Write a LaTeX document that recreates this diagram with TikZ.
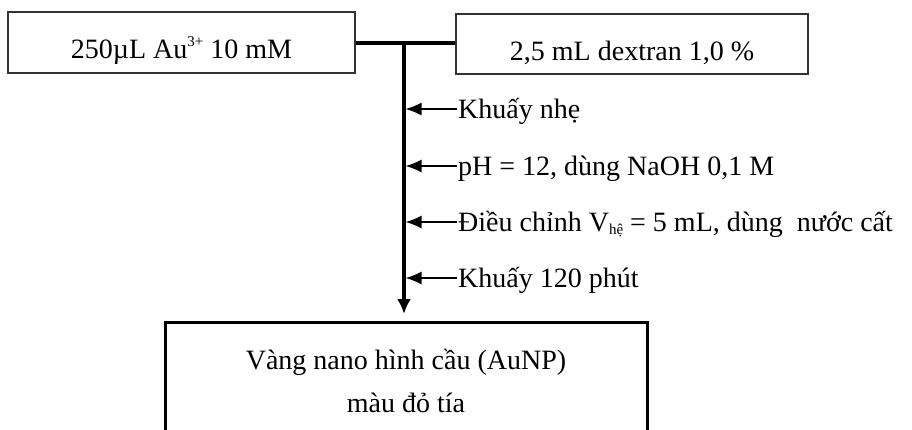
\documentclass[tikz,border=0pt]{standalone}
\usepackage{fontspec}
\setmainfont{Liberation Serif}
\usetikzlibrary{arrows.meta}

\newcommand{\supsc}[1]{\raisebox{0.42em}{\fontsize{15}{15}\selectfont #1}}
\newcommand{\subsc}[1]{\raisebox{-0.12em}{\fontsize{15}{15}\selectfont #1}}

\tikzset{
	inbox/.style={draw=black!80, line width=1.3pt, minimum width=347pt, minimum height=61pt, inner sep=0pt, text height=32pt, text depth=0pt},
	outbox/.style={draw, line width=3pt, minimum width=482pt, minimum height=160pt, inner sep=0pt},
	stepnote/.style={anchor=west, inner sep=1pt, text height=18pt, text depth=0pt},
	stepline/.style={line width=1.6pt, -{Latex[length=16pt,width=13pt]}, shorten >=1.5pt},
}

\begin{document}
\begin{tikzpicture}[x=1pt,y=-1pt,font=\fontsize{28}{34}\selectfont]
					\useasboundingbox (0,0) rectangle (912,429);
					\clip (0,0) rectangle (912,429);
					% two starting solutions
					\node[inbox] (au) at (181.5,42.5) {250µL Au\supsc{3+} 10 mM};
					\node[inbox, minimum width=352pt, minimum height=60pt] (dex) at (632,44) {2,5 mL dextran 1,0 \%};
					\coordinate (mix) at (404,43);
					\draw[line width=4pt] (au.east |- mix) -- (dex.west |- mix);
					% product
					\node[outbox, anchor=north] (aunp) at (406,321) {};
					\node[align=center, font=\fontsize{28}{43}\selectfont] (aunptxt) at (406,381) {Vàng nano hình cầu (AuNP)\\màu đỏ tía};
					\draw[line width=3.2pt, -{Latex[length=15pt,width=14pt]}, shorten >=7pt] (mix) -- (mix |- aunp.north);
					% steps
					\foreach \y/\txt [count=\i] in {109/{Khuấy nhẹ}, 166/{pH = 12, dùng NaOH 0,1 M}, 222/{Điều chỉnh V\subsc{hệ} = 5 mL, dùng\ \ nước cất}, 278/{Khuấy 120 phút}}
					{
					\node[stepnote] (step\i) at (457,\y) {\txt};
					\draw[stepline] (step\i.west) -- (step\i.west -| mix);
					}
				\end{tikzpicture}
\end{document}
